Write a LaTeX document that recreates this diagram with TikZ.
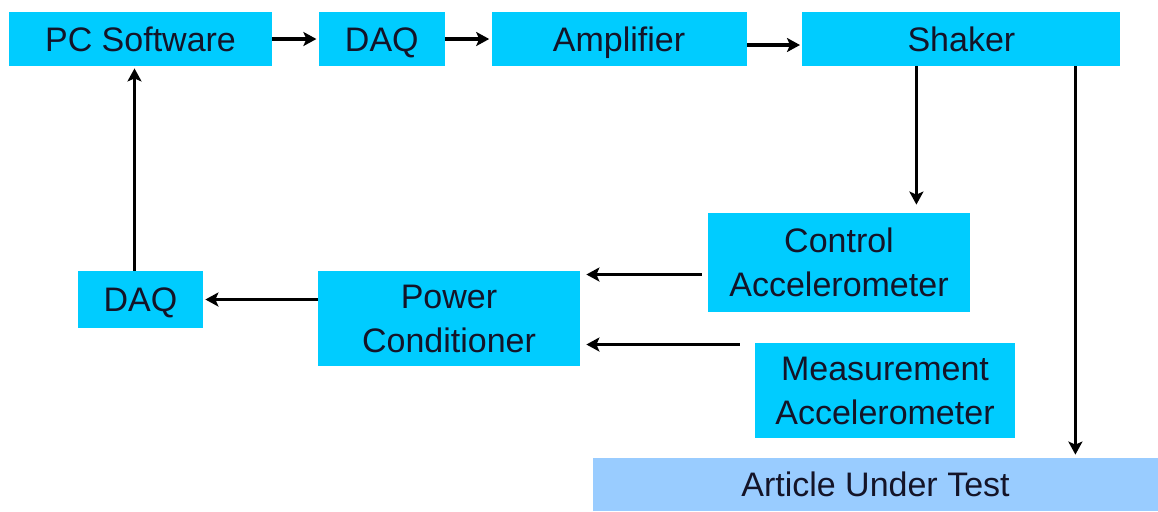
\documentclass[tikz,border=0pt]{standalone}
\usepackage{fontspec}
\setmainfont{Liberation Sans}
\usetikzlibrary{positioning,arrows.meta}
\definecolor{blkcyan}{RGB}{0,204,255}
\definecolor{blklight}{RGB}{153,204,255}
\definecolor{blktext}{RGB}{20,20,40}

\begin{document}
\begin{tikzpicture}[x=1pt,y=-1pt,node distance=23pt, blk/.style={fill=blkcyan,inner sep=0pt,align=center,minimum height=27pt,text=blktext,font=\fontsize{17}{22}\selectfont}, one/.style={text height=12.3pt,text depth=0pt}, arr/.style={-{Stealth[length=6.5pt,width=7pt,inset=1.5pt]},line width=1.9pt,shorten >=1pt}]
\useasboundingbox (0,0) rectangle (579,255.5);
\node[blk,one,minimum width=131.5pt] (pc) at (70.25,19.5) {PC Software};
\node[blk,one,minimum width=63pt,right=of pc] (daq1) {DAQ};
\node[blk,one,minimum width=127.5pt,right=of daq1] (amp) {Amplifier};
\node[blk,one,minimum width=159pt,right=27.5pt of amp] (shaker) {Shaker};
\node[blk,minimum width=131pt,minimum height=49.5pt] (ctrl) at (419.5,131.25) {Control\\Accelerometer};
\node[blk,one,minimum width=62.5pt,minimum height=28.5pt] (daq2) at (70.25,149.75) {DAQ};
\node[blk,minimum width=131pt,minimum height=47.5pt] (pwr) at (224.5,159.25) {Power\\Conditioner};
\node[blk,minimum width=130pt,minimum height=47.5pt] (meas) at (442.5,195.25) {Measurement\\Accelerometer};
\node[blk,one,fill=blklight,minimum width=282.5pt,minimum height=26.5pt] (aut) at (437.75,242.25) {Article Under Test};
\draw[arr] (pc) -- (daq1);
\draw[arr] (daq1) -- (amp);
\draw[arr] ([yshift=-3pt]amp.east) -- ([yshift=-3pt]amp.east -| shaker.west);
\draw[arr,shorten >=4pt] ([xshift=-22.5pt]shaker.south) -- ([xshift=-22.5pt]shaker.south |- ctrl.north);
\draw[arr,shorten >=1.5pt] ([xshift=57pt]shaker.south) -- ([xshift=57pt]shaker.south |- aut.north);
\draw[arr,shorten <=3pt,shorten >=3pt] ([yshift=-6pt]ctrl.west) -- ([yshift=-6pt]ctrl.west -| pwr.east);
\draw[arr,shorten <=7.5pt,shorten >=3pt] ([yshift=23pt]meas.west) -- ([yshift=23pt]meas.west -| pwr.east);
\draw[arr] (pwr.west |- daq2) -- (daq2.east);
\draw[arr] ([xshift=-3pt]daq2.north) -- ([xshift=-3pt]daq2.north |- pc.south);
\end{tikzpicture}
\end{document}
